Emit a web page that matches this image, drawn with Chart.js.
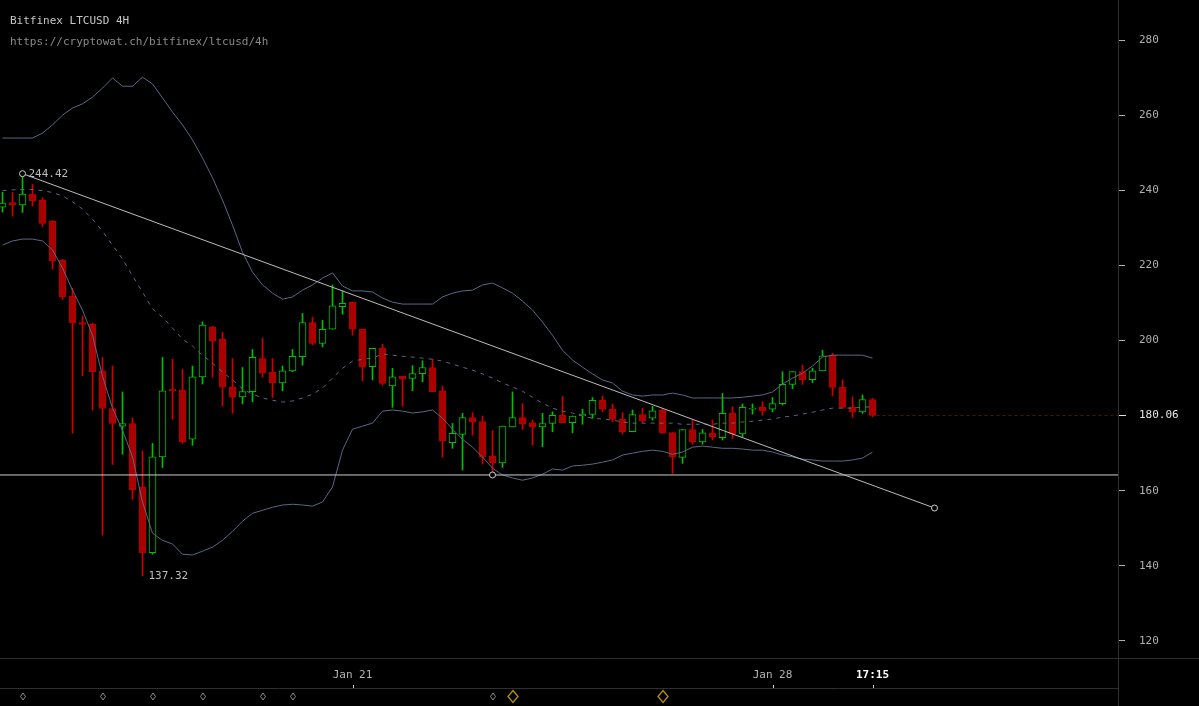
<!DOCTYPE html>
<html>
<head>
<meta charset="utf-8">
<script src="https://cdn.jsdelivr.net/npm/chart.js@4.4.1/dist/chart.umd.min.js"></script>
<style>
html, body { margin: 0; padding: 0; background: #000; overflow: hidden; }
canvas { display: block; }
</style>
</head>
<body>
<canvas id="myChart" width="1199" height="706"></canvas>
<script>
// 4H candles, index 0 = first visible candle, Jan 21 00:00 = 35, Jan 28 00:00 = 77
const opens = [
    235.5, 236.7, 236.1, 239.0, 237.4, 231.8, 221.4, 211.8, 204.8, 204.4,
    191.9, 181.9, 177.2, 177.9, 160.9, 143.5, 169.0, 187.0, 186.8, 173.7,
    190.3, 203.5, 200.3, 187.5, 185.0, 186.4, 195.2, 191.6, 188.7, 191.9,
    195.7, 204.8, 199.2, 203.0, 209.0, 210.2, 203.0, 193.0, 197.9, 187.9,
    190.5, 189.9, 191.2, 192.8, 186.6, 172.8, 175.0, 179.5, 178.4, 169.2,
    167.4, 177.0, 179.5, 178.1, 177.0, 177.9, 180.1, 178.1, 179.9, 180.3,
    184.1, 181.7, 179.0, 175.7, 180.3, 179.3, 181.5, 175.5, 168.9, 176.3,
    173.0, 175.3, 174.1, 180.6, 175.1, 181.7, 182.2, 181.7, 183.2, 188.3,
    191.7, 189.6, 191.9, 196.1, 187.5, 182.2, 181.0, 184.3
];
const highs = [
    239.5, 239.4, 244.42, 241.6, 238.0, 232.0, 221.6, 213.9, 206.5, 204.6,
    195.5, 193.2, 186.3, 179.4, 170.6, 172.6, 195.5, 195.0, 192.3, 193.2,
    205.0, 203.8, 202.2, 195.2, 192.8, 197.6, 200.6, 195.2, 193.2, 197.6,
    207.2, 206.2, 205.4, 214.8, 213.2, 210.2, 203.0, 197.9, 199.0, 192.6,
    190.5, 193.3, 194.6, 195.0, 187.9, 177.9, 180.6, 180.8, 179.9, 176.0,
    177.2, 186.3, 183.2, 178.8, 180.6, 181.0, 185.1, 179.9, 181.7, 184.8,
    185.2, 183.1, 180.8, 181.5, 182.0, 182.5, 181.9, 175.5, 176.3, 178.8,
    176.3, 178.8, 185.9, 182.4, 183.1, 183.1, 183.7, 184.8, 191.7, 191.7,
    193.4, 192.6, 197.4, 196.6, 189.5, 185.0, 185.5, 184.6
];
const lows = [
    234.2, 233.1, 234.1, 235.8, 230.3, 219.0, 210.9, 175.3, 190.6, 181.5,
    148.2, 167.0, 169.7, 157.7, 137.32, 143.1, 166.2, 179.0, 172.6, 172.1,
    188.4, 190.2, 182.5, 180.6, 183.1, 183.7, 190.3, 184.8, 186.6, 191.7,
    193.4, 198.8, 198.3, 203.0, 207.0, 201.4, 189.2, 189.5, 188.1, 182.2,
    182.5, 186.6, 189.0, 186.4, 168.9, 171.3, 165.5, 174.8, 167.1, 164.2,
    166.2, 177.0, 176.3, 172.1, 171.7, 175.7, 178.1, 175.4, 177.7, 179.3,
    181.0, 178.4, 175.1, 175.7, 178.1, 178.8, 175.3, 164.6, 167.3, 172.4,
    172.4, 173.5, 173.5, 173.9, 174.4, 180.4, 180.1, 181.0, 182.8, 187.2,
    188.3, 188.8, 191.9, 185.3, 181.9, 179.5, 180.6, 179.7
];
const closes = [
    236.6, 236.1, 239.0, 237.2, 231.2, 221.2, 211.6, 204.7, 204.3, 191.7,
    181.9, 177.9, 177.9, 160.3, 143.5, 169.0, 186.6, 186.6, 173.0, 190.3,
    204.1, 199.9, 187.7, 185.0, 186.4, 195.5, 191.4, 188.7, 191.9, 195.8,
    204.8, 199.2, 203.0, 209.2, 209.9, 203.0, 193.0, 197.9, 188.6, 190.3,
    189.8, 191.2, 192.8, 186.4, 173.3, 175.3, 179.5, 178.4, 169.0, 167.4,
    177.2, 179.5, 177.7, 177.0, 177.9, 180.1, 178.1, 179.9, 180.4, 184.1,
    181.7, 179.0, 175.7, 180.3, 178.6, 181.3, 175.4, 169.0, 176.3, 173.0,
    175.4, 174.4, 180.6, 175.1, 182.2, 181.9, 181.3, 183.2, 188.3, 191.7,
    189.6, 191.9, 195.9, 187.5, 182.2, 181.0, 184.3, 180.06
];

// Bollinger bands
const bbUpper = [
    253.9, 253.9, 253.9, 253.9, 255.2, 257.4, 260.0, 261.9, 263.0, 264.8,
    267.2, 269.9, 267.7, 267.7, 270.1, 268.3, 264.6, 260.8, 257.4, 253.4,
    248.6, 243.3, 237.4, 230.7, 223.5, 218.2, 214.8, 212.6, 211.0, 211.6,
    213.4, 214.8, 216.6, 218.0, 214.5, 213.2, 213.2, 212.9, 211.3, 210.2,
    209.7, 209.7, 209.7, 209.7, 211.6, 212.6, 213.2, 213.4, 214.8, 215.3,
    214.0, 212.6, 210.5, 208.1, 204.9, 201.4, 197.4, 194.8, 192.9, 191.1,
    189.5, 188.7, 186.5, 185.5, 185.2, 185.5, 185.5, 186.0, 185.5, 184.7,
    184.7, 184.7, 184.7, 184.7, 184.9, 185.2, 185.5, 186.3, 188.4, 190.0,
    191.3, 193.2, 195.6, 196.1, 196.1, 196.1, 196.1, 195.3
];
const bbMiddle = [
    239.9, 240.1, 240.2, 240.2, 239.9, 239.4, 238.5, 236.9, 235.0, 232.3,
    229.1, 225.4, 221.7, 217.2, 212.9, 208.4, 206.2, 203.3, 200.4, 198.5,
    196.1, 194.0, 191.6, 189.5, 187.1, 185.7, 184.7, 184.1, 183.6, 183.9,
    184.7, 185.7, 187.3, 190.0, 192.6, 194.5, 195.0, 195.3, 196.4, 196.1,
    195.8, 195.6, 195.3, 195.0, 194.5, 193.7, 192.9, 192.1, 191.1, 190.0,
    188.7, 187.6, 186.5, 184.9, 183.3, 182.0, 181.2, 180.7, 179.9, 179.3,
    179.1, 178.8, 178.3, 178.0, 178.0, 178.0, 178.0, 178.0, 177.7, 177.7,
    177.7, 177.7, 178.0, 178.0, 178.3, 178.5, 178.8, 179.1, 179.6, 179.9,
    180.4, 180.9, 181.5, 182.0, 182.0, 182.0, 182.3, 182.3
];
const bbLower = [
    225.4, 226.5, 227.0, 227.0, 226.5, 224.1, 219.3, 213.4, 208.1, 201.4,
    190.5, 182.0, 176.1, 169.0, 157.0, 148.7, 146.8, 145.8, 143.1, 142.9,
    143.9, 145.0, 146.8, 149.2, 151.9, 154.0, 154.8, 155.6, 156.2, 156.4,
    156.2, 155.9, 157.0, 161.0, 170.8, 176.4, 177.2, 178.0, 181.2, 181.5,
    181.2, 180.7, 181.0, 181.5, 179.3, 176.4, 173.7, 171.6, 169.0, 166.0,
    164.2, 163.4, 162.8, 163.4, 164.4, 165.8, 165.5, 166.6, 166.8, 167.1,
    167.6, 168.2, 169.5, 170.0, 170.5, 170.8, 170.5, 169.7, 170.3, 171.6,
    171.9, 171.6, 171.3, 171.3, 171.1, 170.8, 170.8, 170.3, 169.5, 169.0,
    168.4, 168.2, 167.9, 167.9, 167.9, 168.2, 168.7, 170.3
];

// drawings
const trendLine = [{ x: 2, y: 244.42 }, { x: 93.2, y: 155.4 }];
const supportLevel = 164.2;
const supportAnchor = 49;
const highIdx = 2, lowIdx = 14;
const lastPrice = 180.06;

// axes (the 180 label is covered by the last price)
const yTicks = [120, 140, 160, 200, 220, 240, 260, 280];
const xTickIdx = [35, 77, 87];
const xTickLabels = ['Jan 21', 'Jan 28', '17:15'];

// markers under the time axis
const markerIdx = [2, 10, 15, 20, 26, 29, 49];
const alertIdx = [51, 66];

const MONO = '"DejaVu Sans Mono", "Liberation Mono", monospace';
const GREEN = '#00c000';
const RED = '#d00000';
const isUp = i => closes[i] >= opens[i];

const extras = {
    id: 'extras',
    beforeDraw(chart) {
        const c = chart.ctx;
        c.save();
        c.fillStyle = '#000';
        c.fillRect(0, 0, chart.width, chart.height);
        c.restore();
    },
    afterDraw(chart) {
        const c = chart.ctx, xs = chart.scales.x, ys = chart.scales.y, a = chart.chartArea;
        const line = (x1, y1, x2, y2) => { c.beginPath(); c.moveTo(x1, y1); c.lineTo(x2, y2); c.stroke(); };
        c.save();

        // frame
        c.strokeStyle = '#2e2e2e';
        c.lineWidth = 1;
        line(0, a.bottom + 0.5, chart.width, a.bottom + 0.5);
        line(0, a.bottom + 30.5, a.right, a.bottom + 30.5);
        line(a.right + 0.5, 0, a.right + 0.5, chart.height);

        // time ticks pointing up from the lower line
        c.strokeStyle = '#d0d0d0';
        xTickIdx.forEach(v => {
            const x = Math.round(xs.getPixelForValue(v)) + 0.5;
            line(x, a.bottom + 27, x, a.bottom + 30);
        });

        // last price line
        const py = Math.round(ys.getPixelForValue(lastPrice)) + 0.5;
        c.strokeStyle = '#5e0c0c';
        c.setLineDash([3, 3]);
        line(xs.getPixelForValue(closes.length - 1) + 4, py, a.right, py);
        c.setLineDash([]);
        c.strokeStyle = '#e0e0e0';
        line(a.right + 1, py, a.right + 8, py);
        c.fillStyle = '#e6e6e6';
        c.font = '11px ' + MONO;
        c.textBaseline = 'middle';
        c.textAlign = 'left';
        c.fillText(lastPrice.toFixed(2), a.right + 21, py);

        // high / low labels
        c.fillStyle = '#bdbdbd';
        c.fillText(highs[highIdx].toFixed(2), xs.getPixelForValue(highIdx) + 6, ys.getPixelForValue(highs[highIdx]));
        c.fillText(lows[lowIdx].toFixed(2), xs.getPixelForValue(lowIdx) + 6, ys.getPixelForValue(lows[lowIdx]));

        // title
        c.fillStyle = '#c8c8c8';
        c.fillText('Bitfinex LTCUSD 4H', 10, 21);
        c.fillStyle = '#8a8a8a';
        c.fillText('https://cryptowat.ch/bitfinex/ltcusd/4h', 10, 42);

        // markers
        const my = a.bottom + 38.5;
        const diamond = (x, w, h) => {
            c.beginPath();
            c.moveTo(x, my - h); c.lineTo(x + w, my); c.lineTo(x, my + h); c.lineTo(x - w, my);
            c.closePath(); c.stroke();
        };
        c.strokeStyle = '#8c8c8c';
        c.lineWidth = 1;
        markerIdx.forEach(i => diamond(Math.round(xs.getPixelForValue(i)), 2.5, 3.5));
        c.strokeStyle = '#b8900c';
        c.lineWidth = 1.3;
        alertIdx.forEach(i => diamond(Math.round(xs.getPixelForValue(i)), 5, 6));

        c.restore();
    }
};

const data = {
    datasets: [
        {
            type: 'line',
            label: 'Trend',
            data: trendLine,
            borderColor: '#bcbcbc',
            borderWidth: 1,
            pointRadius: 3,
            pointBackgroundColor: '#000',
            pointBorderColor: '#cfcfcf',
            pointBorderWidth: 1,
            order: 0
        },
        {
            type: 'line',
            label: 'Support',
            data: [{ x: -5, y: supportLevel }, { x: supportAnchor, y: supportLevel }, { x: 130, y: supportLevel }],
            borderColor: '#cfcfcf',
            borderWidth: 1,
            pointRadius: [0, 3, 0],
            pointBackgroundColor: '#000',
            pointBorderColor: '#cfcfcf',
            order: 1
        },
        {
            type: 'line',
            label: 'BB upper',
            data: bbUpper.map((v, i) => ({ x: i, y: v })),
            borderColor: '#5c6784',
            borderWidth: 1,
            pointRadius: 0,
            order: 2
        },
        {
            type: 'line',
            label: 'BB middle',
            data: bbMiddle.map((v, i) => ({ x: i, y: v })),
            borderColor: '#5c6784',
            borderWidth: 1,
            borderDash: [4, 5],
            pointRadius: 0,
            order: 3
        },
        {
            type: 'line',
            label: 'BB lower',
            data: bbLower.map((v, i) => ({ x: i, y: v })),
            borderColor: '#5c6784',
            borderWidth: 1,
            pointRadius: 0,
            order: 4
        },
        {
            type: 'bar',
            label: 'Body',
            data: opens.map((o, i) => ({ x: i, y: [o, closes[i]] })),
            grouped: false,
            barThickness: 7,
            minBarLength: 1,
            backgroundColor: ctx => isUp(ctx.dataIndex) ? '#000' : '#a80000',
            borderColor: ctx => isUp(ctx.dataIndex) ? GREEN : '#b80000',
            borderWidth: 1,
            borderSkipped: false,
            order: 5
        },
        {
            type: 'bar',
            label: 'Wick',
            data: lows.map((l, i) => ({ x: i, y: [l, highs[i]] })),
            grouped: false,
            barThickness: 1,
            backgroundColor: ctx => isUp(ctx.dataIndex) ? GREEN : RED,
            borderWidth: 0,
            order: 6
        }
    ]
};

const config = {
    type: 'bar',
    data: data,
    plugins: [extras],
    options: {
        responsive: false,
        animation: false,
        events: [],
        devicePixelRatio: 1,
        layout: { padding: 0, autoPadding: false },
        plugins: { legend: { display: false }, tooltip: { enabled: false } },
        scales: {
            x: {
                type: 'linear',
                min: -0.25,
                max: 111.55,
                offset: false,
                grid: { display: false },
                border: { display: false },
                afterBuildTicks: s => { s.ticks = xTickIdx.map(v => ({ value: v })); },
                afterFit: s => {
                    s.height = 48;
                    s.paddingLeft = 0;
                    s.paddingRight = 0;
                },
                ticks: {
                    autoSkip: false,
                    maxRotation: 0,
                    padding: 3,
                    callback: (v, i) => xTickLabels[i],
                    color: c => c.index === 2 ? '#ffffff' : '#b4b4b4',
                    font: c => ({ family: MONO, size: 11, weight: c.index === 2 ? 'bold' : 'normal' })
                }
            },
            y: {
                type: 'linear',
                position: 'right',
                min: 115.474,
                max: 290.649,
                grid: { display: true, drawOnChartArea: false, drawTicks: true, tickLength: 7, tickColor: '#b0b0b0' },
                border: { display: false },
                afterBuildTicks: s => { s.ticks = yTicks.map(v => ({ value: v })); },
                afterFit: s => {
                    s.width = 81;
                    s.paddingTop = 0;
                    s.paddingBottom = 0;
                },
                ticks: {
                    padding: 14,
                    color: '#b0b0b0',
                    font: { family: MONO, size: 11 },
                    callback: v => v
                }
            }
        }
    }
};

var myChart = new Chart(document.getElementById('myChart'), config);
</script>
</body>
</html>
